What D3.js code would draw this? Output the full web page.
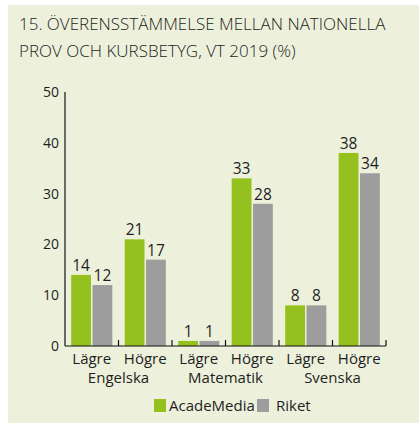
<!DOCTYPE html>
<html>
<head>
<meta charset="utf-8">
<script src="https://cdn.jsdelivr.net/npm/d3@7"></script>
<style>
  body { margin: 0; background: #fff; }
  text { font-family: "Open Sans", "Noto Sans", sans-serif; fill: #1e1e1e; }
</style>
</head>
<body>
<svg id="chart" width="419" height="423"></svg>
<script>
// chart data
const categories = ["Lägre", "Högre", "Lägre", "Högre", "Lägre", "Högre"];
const subjects = ["Engelska", "Matematik", "Svenska"];
const seriesNames = ["AcadeMedia", "Riket"];
const academedia = [14, 21, 1, 33, 8, 38];
const riket = [12, 17, 1, 28, 8, 34];
const yTicks = [0, 10, 20, 30, 40, 50];

const colors = { AcadeMedia: "#95c11f", Riket: "#9d9d9d" };

const svg = d3.select("#chart");

svg.append("rect")
    .attr("x", 8).attr("y", 5)
    .attr("width", 411).attr("height", 418)
    .attr("fill", "#edf1dc");

// title
const title = svg.append("text")
    .attr("font-size", 17)
    .attr("font-weight", 300);
title.append("tspan").attr("x", 19).attr("y", 30).text("15. ÖVERENSSTÄMMELSE MELLAN NATIONELLA");
title.append("tspan").attr("x", 19).attr("y", 57).text("PROV OCH KURSBETYG, VT 2019 (%)");

const y = d3.scaleLinear().domain([0, 50]).range([346, 92]);
const idx = d3.range(categories.length);
const x0 = d3.scaleBand().domain(idx).range([65, 386]);
const x1 = d3.scaleBand().domain(seriesNames)
    .range([0, x0.bandwidth()])
    .paddingInner(0.07)
    .paddingOuter(0.29);

const rows = idx.map(i => ({ i, AcadeMedia: academedia[i], Riket: riket[i] }));

// bars
const groups = svg.append("g")
    .selectAll("g")
    .data(rows)
    .join("g")
    .attr("transform", d => `translate(${x0(d.i)},0)`);

groups.selectAll("rect")
    .data(d => seriesNames.map(s => ({ s, v: d[s] })))
    .join("rect")
    .attr("x", d => x1(d.s))
    .attr("y", d => y(d.v))
    .attr("width", x1.bandwidth())
    .attr("height", d => y(0) - y(d.v))
    .attr("fill", d => colors[d.s]);

groups.selectAll("text")
    .data(d => seriesNames.map(s => ({ s, v: d[s] })))
    .join("text")
    .attr("x", d => x1(d.s) + x1.bandwidth() / 2)
    .attr("y", d => y(d.v) - 4)
    .attr("text-anchor", "middle")
    .attr("font-size", 15.5)
    .text(d => d.v);

// y axis
svg.append("line")
    .attr("x1", 65).attr("x2", 65)
    .attr("y1", y(50)).attr("y2", y(0))
    .attr("stroke", "#111").attr("stroke-width", 1.2);

svg.append("g")
    .selectAll("text")
    .data(yTicks)
    .join("text")
    .attr("x", 59)
    .attr("y", d => y(d))
    .attr("dy", "0.35em")
    .attr("text-anchor", "end")
    .attr("font-size", 14)
    .text(d => d);

// x axis
svg.append("line")
    .attr("x1", 65).attr("x2", 386)
    .attr("y1", y(0)).attr("y2", y(0))
    .attr("stroke", "#111").attr("stroke-width", 1.2);

svg.append("g")
    .selectAll("line")
    .data(idx)
    .join("line")
    .attr("x1", i => x0(i) + x0.bandwidth())
    .attr("x2", i => x0(i) + x0.bandwidth())
    .attr("y1", y(0) - 6).attr("y2", y(0))
    .attr("stroke", "#111").attr("stroke-width", 1.2);

svg.append("g")
    .selectAll("text")
    .data(idx)
    .join("text")
    .attr("x", i => x0(i) + x0.bandwidth() / 2)
    .attr("y", 364)
    .attr("text-anchor", "middle")
    .attr("font-size", 15)
    .text(i => categories[i]);

svg.append("g")
    .selectAll("text")
    .data(subjects)
    .join("text")
    .attr("x", (d, k) => x0(k * 2) + x0.bandwidth())
    .attr("y", 383)
    .attr("text-anchor", "middle")
    .attr("font-size", 15)
    .text(d => d);

// legend
const legendPos = [{ x: 154, tx: 169 }, { x: 257, tx: 276 }];
const legend = svg.append("g")
    .selectAll("g")
    .data(seriesNames)
    .join("g");
legend.append("rect")
    .attr("x", (d, k) => legendPos[k].x)
    .attr("y", 399)
    .attr("width", 12).attr("height", 13)
    .attr("fill", d => colors[d]);
legend.append("text")
    .attr("x", (d, k) => legendPos[k].tx)
    .attr("y", 406)
    .attr("dy", "0.35em")
    .attr("font-size", 15)
    .text(d => d);
</script>
</body>
</html>
